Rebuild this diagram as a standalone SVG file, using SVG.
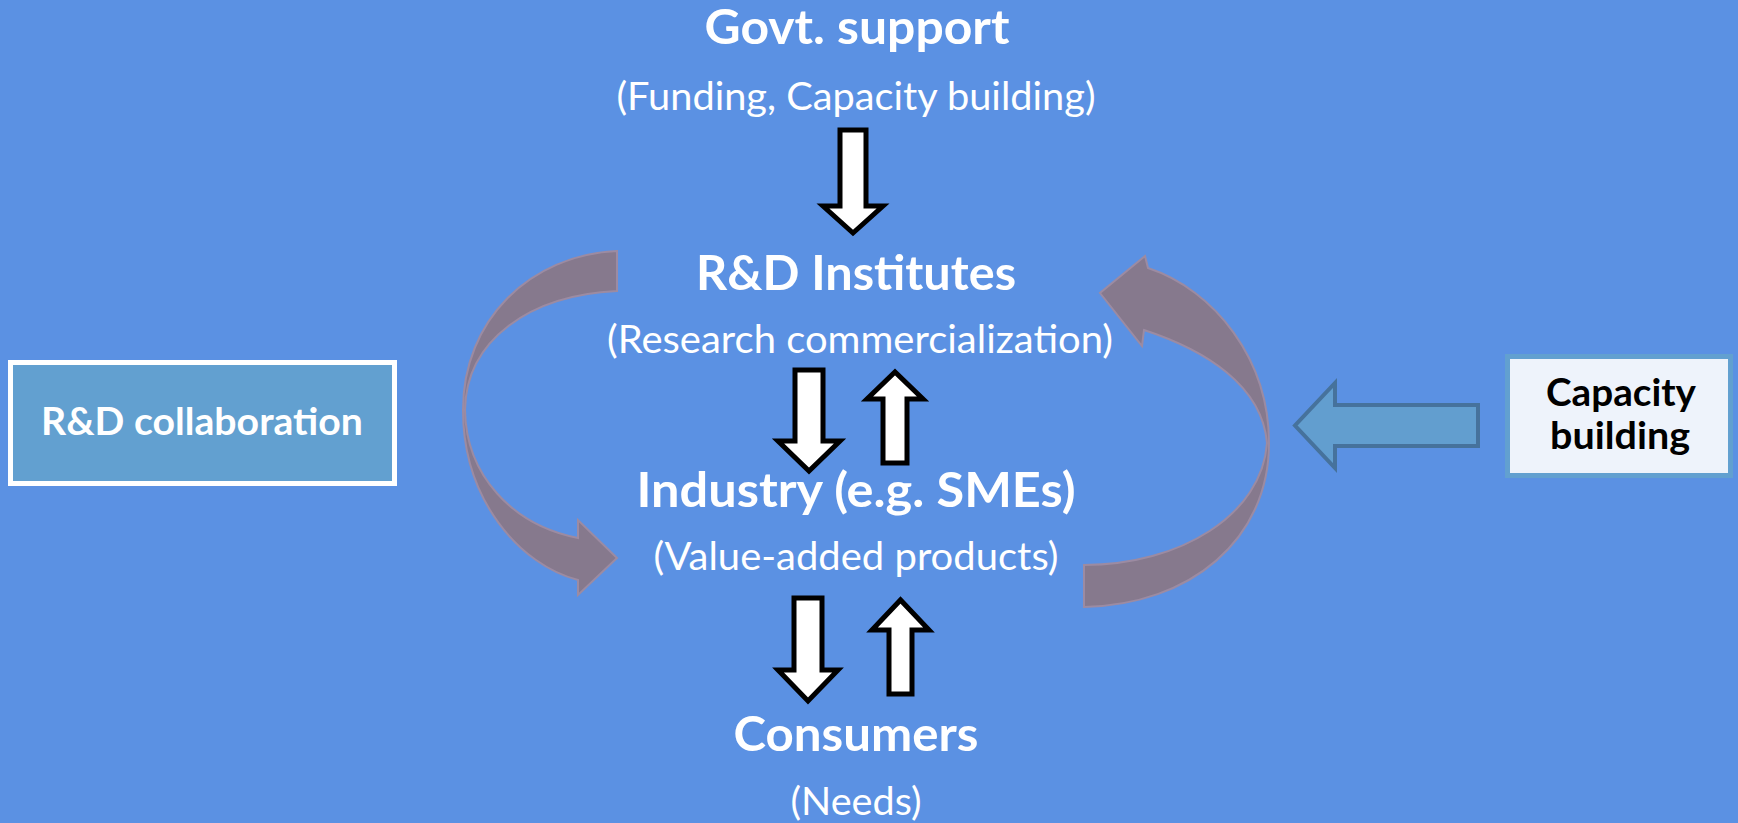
<svg xmlns="http://www.w3.org/2000/svg" width="1738" height="823" viewBox="0 0 1738 823">
<style>
.bold{font-family:Lato,"Open Sans","Liberation Sans",sans-serif;font-weight:bold;fill:#FFFFFF;text-anchor:middle}
.reg{font-family:Lato,"Open Sans","Liberation Sans",sans-serif;font-weight:normal;fill:#FFFFFF;text-anchor:middle}
.blk{fill:#000000}
.warrow{fill:#FFFFFF;stroke:#000000;stroke-width:5;stroke-linejoin:miter}
.curve{fill:#86798D;stroke:#9C8BA2;stroke-width:2}
</style>
<rect x="0" y="0" width="1738" height="823" fill="#5B91E3"/>

<g id="connectors">
  <path class="curve" d="M 617 251 C 530 255 463 320 463 410 C 463 500 520 565 578 580 L 578 595 L 617 558 L 578 520 L 578 538 C 512 525 466 475 465 410 C 466 340 530 295 617 291 Z"/>
  <path class="curve" d="M 1084 565 L 1084 607 C 1190 605 1269 540 1269 443 C 1269 360 1215 290 1148 268 L 1145 256 L 1100 293 L 1142 346 L 1144 330 C 1205 350 1262 385 1267 443 C 1262 515 1180 565 1084 565 Z"/>
  <path class="warrow" d="M 840 130 H 866 V 206 H 883 L 853 233 L 823 206 H 840 Z"/>
  <path class="warrow" d="M 795 370 H 823 V 441 H 840 L 809 471 L 778 441 H 795 Z"/>
  <path class="warrow" d="M 883 463 H 907 V 399 H 923 L 895 372 L 867 399 H 883 Z"/>
  <path class="warrow" d="M 794 598 H 822 V 670 H 838 L 808 701 L 778 670 H 794 Z"/>
  <path class="warrow" d="M 889 694 H 912 V 630 H 929 L 900.5 600 L 872 630 H 889 Z"/>
  <path d="M 1478 405 H 1335 V 383 L 1295 425.5 L 1335 468 V 446 H 1478 Z" fill="#629ECF" stroke="#46729C" stroke-width="4"/>
</g>

<g id="govt">
  <text class="bold" x="857" y="44" font-size="48" textLength="305" lengthAdjust="spacingAndGlyphs">Govt. support</text>
  <text class="reg" x="856" y="110" font-size="38" textLength="479" lengthAdjust="spacingAndGlyphs">(Funding, Capacity building)</text>
</g>

<g id="rd">
  <text class="bold" x="856" y="290" font-size="48" textLength="320" lengthAdjust="spacingAndGlyphs">R&amp;D Institutes</text>
  <text class="reg" x="860" y="353" font-size="38" textLength="506" lengthAdjust="spacingAndGlyphs">(Research commercialization)</text>
</g>

<g id="industry">
  <text class="bold" x="856" y="507" font-size="48" textLength="439" lengthAdjust="spacingAndGlyphs">Industry (e.g. SMEs)</text>
  <text class="reg" x="856" y="570" font-size="38" textLength="405" lengthAdjust="spacingAndGlyphs">(Value-added products)</text>
</g>

<g id="consumers">
  <text class="bold" x="856" y="751" font-size="48" textLength="245" lengthAdjust="spacingAndGlyphs">Consumers</text>
  <text class="reg" x="856" y="815" font-size="38" textLength="131" lengthAdjust="spacingAndGlyphs">(Needs)</text>
</g>

<g id="rd-collab">
  <rect x="10.5" y="362.5" width="384" height="121" fill="#62A0D0" stroke="#FFFFFF" stroke-width="5"/>
  <text class="bold" x="202" y="435" font-size="38" textLength="322" lengthAdjust="spacingAndGlyphs">R&amp;D collaboration</text>
</g>

<g id="capacity">
  <rect x="1507.5" y="356.5" width="223" height="119" fill="#EEF3FB" stroke="#62A0D0" stroke-width="5"/>
  <text class="bold blk" x="1621" y="406" font-size="38" textLength="150" lengthAdjust="spacingAndGlyphs">Capacity</text>
  <text class="bold blk" x="1620" y="449" font-size="38" textLength="140" lengthAdjust="spacingAndGlyphs">building</text>
</g>
</svg>
